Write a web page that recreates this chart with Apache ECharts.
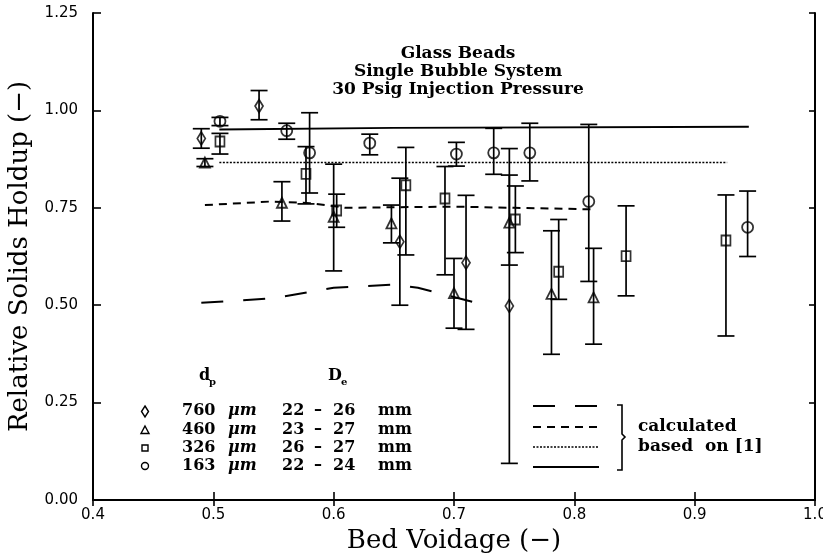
<!DOCTYPE html>
<html>
<head>
<meta charset="utf-8">
<script src="https://cdn.jsdelivr.net/npm/echarts@6.0.0/dist/echarts.min.js"></script>
<style>
  html, body { margin: 0; padding: 0; background: #fff; }
  #main { width: 823px; height: 555px; }
</style>
</head>
<body>
<div id="main"></div>
<script>
// 760 um (diamonds)
var diaX  = [0.490, 0.538, 0.655, 0.710, 0.746];
var diaY  = [0.928, 1.011, 0.663, 0.609, 0.498];
var diaLo = [0.903, 0.976, 0.500, 0.438, 0.094];
var diaHi = [0.953, 1.051, 0.826, 0.782, 0.902];
// 460 um (triangles)
var triX  = [0.493, 0.557, 0.600, 0.648, 0.700, 0.746, 0.781, 0.816];
var triY  = [0.866, 0.763, 0.727, 0.710, 0.531, 0.712, 0.529, 0.520];
var triLo = [0.856, 0.716, 0.588, 0.660, 0.441, 0.603, 0.374, 0.400];
var triHi = [0.876, 0.817, 0.862, 0.757, 0.620, 0.834, 0.691, 0.646];
// 326 um (squares)
var sqX  = [0.5055, 0.577, 0.6025, 0.660, 0.6925, 0.751, 0.787, 0.843, 0.926];
var sqY  = [0.920, 0.837, 0.743, 0.808, 0.774, 0.720, 0.586, 0.626, 0.666];
var sqLo = [0.888, 0.760, 0.700, 0.629, 0.578, 0.635, 0.515, 0.524, 0.421];
var sqHi = [0.941, 0.907, 0.785, 0.905, 0.856, 0.806, 0.720, 0.755, 0.783];
// 163 um (circles)
var ciX  = [0.5055, 0.561, 0.580, 0.630, 0.702, 0.733, 0.763, 0.812, 0.944];
var ciY  = [0.972, 0.948, 0.891, 0.916, 0.888, 0.891, 0.891, 0.766, 0.700];
var ciLo = [0.961, 0.926, 0.788, 0.886, 0.857, 0.836, 0.819, 0.561, 0.625];
var ciHi = [0.982, 0.967, 0.994, 0.939, 0.918, 0.954, 0.967, 0.964, 0.793];

// calculated curves
var longX  = [0.490, 0.550, 0.600, 0.650, 0.670, 0.720];
var longY  = [0.506, 0.518, 0.545, 0.553, 0.545, 0.505];
var shortX = [0.493, 0.547, 0.580, 0.610, 0.700, 0.750, 0.816];
var shortY = [0.757, 0.766, 0.762, 0.750, 0.753, 0.750, 0.746];
var dotX   = [0.505, 0.927];
var dotY   = [0.866, 0.866];
var solidX = [0.505, 0.650, 0.945];
var solidY = [0.951, 0.955, 0.958];

var serif = '"DejaVu Serif", "Liberation Serif", serif';
var sans = '"DejaVu Sans", "Liberation Sans", sans-serif';

function pairs(xs, ys) {
    return xs.map(function (x, i) { return [x, ys[i]]; });
}

function errBars(xs, lo, hi) {
    return {
        type: 'custom',
        z: 3,
        encode: { x: 0, y: [1, 2] },
        data: xs.map(function (x, i) { return [x, lo[i], hi[i]]; }),
        renderItem: function (params, api) {
            var a = api.coord([api.value(0), api.value(1)]);
            var b = api.coord([api.value(0), api.value(2)]);
            var w = 8.5;
            var st = { stroke: '#000', lineWidth: 1.7 };
            return {
                type: 'group',
                children: [
                    { type: 'line', shape: { x1: a[0], y1: a[1], x2: b[0], y2: b[1] }, style: st },
                    { type: 'line', shape: { x1: a[0] - w, y1: a[1], x2: a[0] + w, y2: a[1] }, style: st },
                    { type: 'line', shape: { x1: b[0] - w, y1: b[1], x2: b[0] + w, y2: b[1] }, style: st }
                ]
            };
        }
    };
}

function marks(xs, ys, sym, size) {
    return {
        type: 'scatter',
        z: 4,
        symbol: sym,
        symbolSize: size,
        data: pairs(xs, ys),
        itemStyle: { color: 'rgba(0,0,0,0)', borderColor: '#000', borderWidth: 1.8 }
    };
}

function curve(xs, ys, dash, lw) {
    return {
        type: 'line',
        z: 2,
        symbol: 'none',
        data: pairs(xs, ys),
        lineStyle: { color: '#000', width: lw, type: dash }
    };
}

function txt(s, x, y, extra) {
    var style = {
        text: s, x: x, y: y, fill: '#000',
        font: 'bold 16px ' + serif,
        textAlign: 'left', align: 'left',
        textVerticalAlign: 'middle', verticalAlign: 'middle'
    };
    for (var k in extra) style[k] = extra[k];
    return { type: 'text', style: style };
}

var legendRows = [
    ['760', '22', '26'],
    ['460', '23', '27'],
    ['326', '26', '27'],
    ['163', '22', '24']
];
var rowY = [411, 430, 448, 466];

var gfx = [];
gfx.push(txt('d', 199, 376, { font: 'bold 16px ' + serif }));
gfx.push(txt('p', 209, 382, { font: 'bold 10px ' + serif }));
gfx.push(txt('D', 328, 376, { font: 'bold 16px ' + serif }));
gfx.push(txt('e', 341, 382, { font: 'bold 10px ' + serif }));
legendRows.forEach(function (r, i) {
    var y = rowY[i];
    gfx.push(txt(r[0], 182, y));
    gfx.push(txt('\u03bcm', 228, y, { font: 'italic bold 16px ' + serif }));
    gfx.push(txt(r[1], 282, y));
    gfx.push(txt('\u2013', 318, y, { textAlign: 'center', align: 'center' }));
    gfx.push(txt(r[2], 333, y));
    gfx.push(txt('mm', 378, y));
});
var ls = { stroke: '#000', lineWidth: 1.4, fill: null };
gfx.push({ type: 'polygon', shape: { points: [[145, 406], [148.5, 411.5], [145, 417], [141.5, 411.5]] }, style: ls });
gfx.push({ type: 'polygon', shape: { points: [[145, 426], [149, 433.5], [141, 433.5]] }, style: ls });
gfx.push({ type: 'rect', shape: { x: 142, y: 445, width: 6, height: 6 }, style: ls });
gfx.push({ type: 'circle', shape: { cx: 145, cy: 466, r: 3.5 }, style: ls });

// calculated line samples
var sampleY = [406, 427, 447, 467];
var sampleDash = [[22, 20], [8, 6], [2, 1.5], 'solid'];
var sampleW = [2, 2, 1.5, 1.8];
sampleY.forEach(function (y, i) {
    gfx.push({
        type: 'line',
        shape: { x1: 533, y1: y, x2: 599, y2: y },
        style: { stroke: '#000', lineWidth: sampleW[i], lineDash: sampleDash[i] === 'solid' ? null : sampleDash[i] }
    });
});
gfx.push({
    type: 'polyline',
    shape: { points: [[617, 405], [622, 405], [622, 434], [625, 437], [622, 440], [622, 470], [617, 470]] },
    style: { stroke: '#000', lineWidth: 1.6, fill: null }
});
gfx.push(txt('calculated', 638, 427, { font: 'bold 17px ' + serif }));
gfx.push(txt('based  on [1]', 638, 447, { font: 'bold 17px ' + serif }));

var chart = echarts.init(document.getElementById('main'));
var option = {
    animation: false,
    backgroundColor: '#fff',
    title: {
        text: 'Glass Beads\nSingle Bubble System\n30 Psig Injection Pressure',
        left: 458,
        top: 45,
        textAlign: 'center',
        padding: 0,
        textStyle: { fontFamily: serif, fontWeight: 'bold', fontSize: 17, lineHeight: 18, color: '#000' }
    },
    grid: { left: 93, right: 8, top: 13, bottom: 55, outerBoundsMode: 'none', containLabel: false },
    xAxis: [{
        type: 'value', min: 0.4, max: 1.0, interval: 0.1,
        name: 'Bed Voidage (\u2212)', nameLocation: 'middle', nameGap: 21,
        nameTextStyle: { fontFamily: serif, fontSize: 26, color: '#000' },
        axisLine: { lineStyle: { color: '#000', width: 2 } },
        axisTick: { inside: true, length: 8, lineStyle: { color: '#000', width: 1.6 } },
        axisLabel: { margin: 8, fontFamily: sans, fontSize: 15, color: '#000',
            formatter: function (v) { return v.toFixed(1); } },
        splitLine: { show: false }
    }, {
        type: 'value', min: 0.4, max: 1.0, interval: 0.1, position: 'top',
        axisLine: { lineStyle: { color: '#000', width: 2 } },
        axisTick: { inside: true, length: 6, lineStyle: { color: '#000', width: 1.6 } },
        axisLabel: { show: false },
        splitLine: { show: false }
    }],
    yAxis: [{
        type: 'value', min: 0, max: 1.25, interval: 0.25,
        name: 'Relative Solids Holdup (\u2212)', nameLocation: 'middle', nameGap: 55,
        nameTextStyle: { fontFamily: serif, fontSize: 26, color: '#000' },
        axisLine: { lineStyle: { color: '#000', width: 2 } },
        axisTick: { inside: true, length: 8, lineStyle: { color: '#000', width: 1.6 } },
        axisLabel: { margin: 15, fontFamily: sans, fontSize: 15, color: '#000',
            formatter: function (v) { return v.toFixed(2); } },
        splitLine: { show: false }
    }, {
        type: 'value', min: 0, max: 1.25, interval: 0.25, position: 'right',
        axisLine: { lineStyle: { color: '#000', width: 2 } },
        axisTick: { inside: true, length: 6, lineStyle: { color: '#000', width: 1.6 } },
        axisLabel: { show: false },
        splitLine: { show: false }
    }],
    series: [
        curve(longX, longY, [22, 20], 2),
        curve(shortX, shortY, [8, 6], 2),
        curve(dotX, dotY, [2, 1.5], 1.5),
        curve(solidX, solidY, 'solid', 1.8),
        errBars(diaX, diaLo, diaHi),
        errBars(triX, triLo, triHi),
        errBars(sqX, sqLo, sqHi),
        errBars(ciX, ciLo, ciHi),
        marks(diaX, diaY, 'diamond', [8, 13]),
        marks(triX, triY, 'triangle', [10, 10]),
        marks(sqX, sqY, 'rect', [9, 10]),
        marks(ciX, ciY, 'circle', 11)
    ],
    graphic: gfx
};
chart.setOption(option);
</script>
</body>
</html>
